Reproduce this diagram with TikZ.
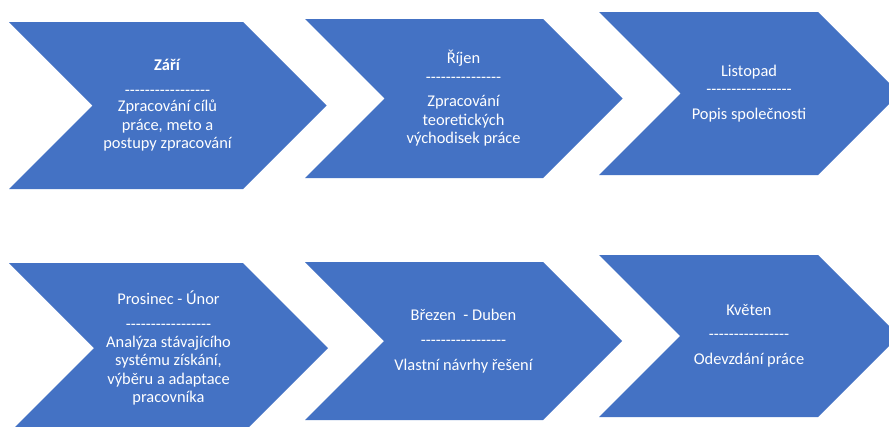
\documentclass[tikz,border=0pt]{standalone}
\usepackage{fontspec}
\newfontfamily\carlito{Carlito}[Ligatures=TeXOff]
\usetikzlibrary{positioning}
\definecolor{chevblue}{HTML}{4472C4}
\newcommand{\textsize}{\fontsize{16.4}{18.5}\selectfont}

\begin{document}
\begin{tikzpicture}[x=1pt,y=-1pt,
    stagetext/.style={text=white, align=center, inner sep=0pt, font=\carlito\textsize}]
        \useasboundingbox (0,0) rectangle (889,426);
        \fill[white] (0,0) rectangle (889,426);
        \clip (0,0) rectangle (889,426);
        % chevrons: left/right/top/bottom
        \foreach \l/\r/\t/\b in {9/243/22/189, 305/543/19/178, 599/818/12/175,
                                 9/243/263/433, 305/543/262/420, 599/818/255/417}
            \fill[chevblue] (\l,\t) -- (\r,\t) -- ({\r+(\b-\t)/2},{(\t+\b)/2}) -- (\r,\b)
                -- (\l,\b) -- ({\l+(\b-\t)/2},{(\t+\b)/2}) -- cycle;

        \node (zari) at (167.5,105.5) [stagetext] {\textbf{Září}\\[6pt]
            -----------------\\[-2pt] Zpracování cílů\\ práce, meto a\\ postupy zpracování};
        \node (rijen) at (463.5,98.5) [stagetext] {Říjen\\[0pt]
            ---------------\\[6pt] Zpracování\\ teoretických\\ východisek práce};
        \node (listopad) at (749,93.5) [stagetext] {Listopad\\[0pt]
            -----------------\\[6pt] Popis společnosti};
        \node (prosinec) at (168.5,348) [stagetext] {Prosinec - Únor\\[7pt]
            -----------------\\[-1pt] Analýza stávajícího\\ systému získání,\\ výběru a adaptace\\ pracovníka};
        \node (brezen) at (463.5,341) [stagetext] {Březen\ \ - Duben\\[7pt]
            -----------------\\[6pt] Vlastní návrhy řešení};
        \node (kveten) at (749,336) [stagetext] {Květen\\[5pt]
            ----------------\\[7pt] Odevzdání práce};
\end{tikzpicture}
\end{document}
